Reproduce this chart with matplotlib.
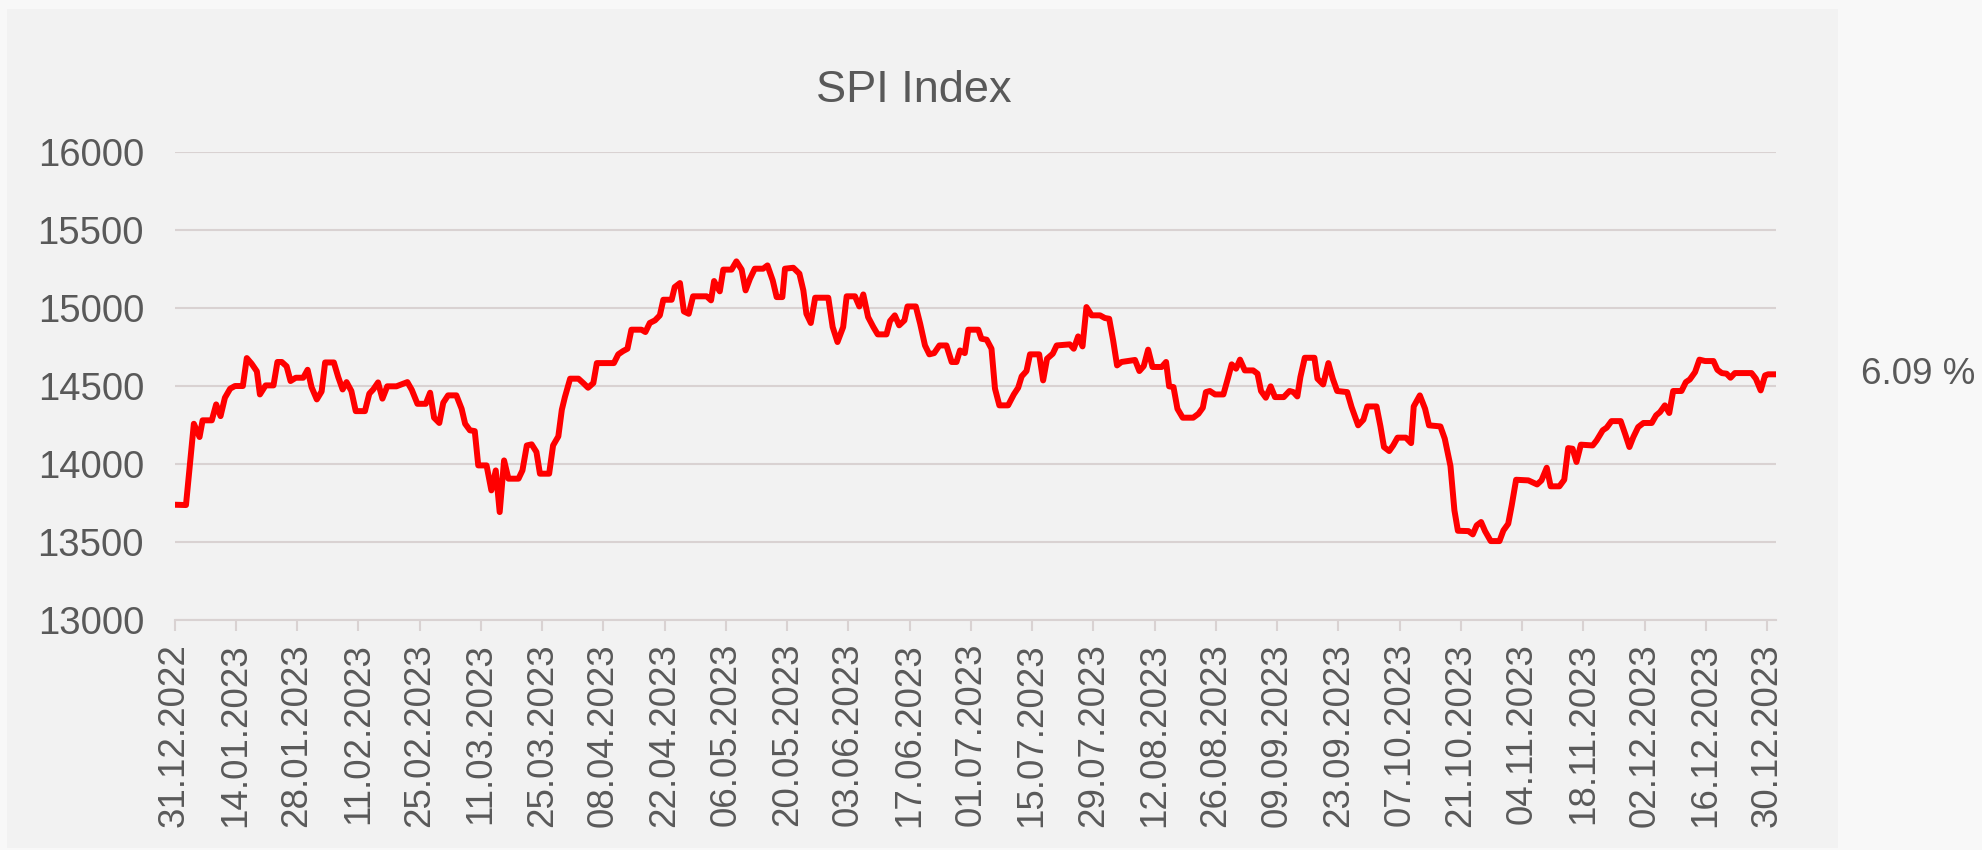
import numpy as np
import pandas as pd
import matplotlib
matplotlib.use("Agg")
import matplotlib.pyplot as plt
import matplotlib.dates as mdates
from matplotlib.patches import Rectangle

plt.rcParams['font.family'] = ['Liberation Sans', 'DejaVu Sans']

START = "2022-12-31"

# position in days after 31.12.2022
day_pos = [
    0.0, 2.6, 4.4, 5.7, 6.4, 8.5, 9.5, 10.5, 11.5, 12.7, 13.8, 15.6, 16.5, 17.6, 18.8, 19.5,
    20.8, 22.6, 23.5, 24.5, 25.6, 26.5, 27.7, 29.4, 30.4, 31.3, 32.5, 33.6, 34.4, 36.4, 37.4,
    38.4, 39.3, 40.4, 41.4, 43.5, 44.5, 45.4, 46.5, 47.5, 48.6, 50.7, 53.2, 54.2, 55.5, 57.4,
    58.4, 59.3, 60.5, 61.4, 62.5, 64.4, 65.6, 66.4, 67.5, 68.6, 69.4, 71.3, 72.4, 73.4, 74.3,
    75.3, 76.3, 78.6, 79.5, 80.5, 81.6, 82.7, 83.5, 85.6, 86.5, 87.7, 88.5, 89.2, 90.4, 92.3,
    93.4, 94.5, 95.7, 96.5, 100.4, 101.4, 102.5, 103.5, 104.4, 106.7, 107.6, 108.6, 109.8,
    110.9, 111.7, 113.6, 114.3, 115.5, 116.4, 117.5, 118.5, 121.6, 122.6, 123.3, 123.9, 124.6,
    125.4, 127.3, 128.4, 129.6, 130.5, 131.5, 132.6, 134.5, 135.5, 136.7, 137.6, 138.9, 139.5,
    141.4, 142.8, 143.7, 144.4, 145.4, 146.4, 149.4, 150.4, 151.5, 152.8, 153.6, 155.5, 156.5,
    157.4, 158.5, 159.7, 160.7, 162.7, 163.5, 164.6, 165.6, 166.8, 167.5, 169.4, 170.4, 171.5,
    172.5, 173.6, 174.8, 176.4, 177.6, 178.7, 179.5, 180.6, 181.4, 183.7, 184.4, 185.6, 186.7,
    187.5, 188.5, 190.5, 191.8, 192.8, 193.6, 194.7, 195.5, 197.6, 198.5, 199.4, 200.7, 201.6,
    204.6, 205.5, 206.5, 207.5, 208.4, 209.6, 211.5, 212.6, 213.6, 214.5, 215.4, 216.4, 219.5,
    220.5, 221.5, 222.5, 223.5, 225.6, 226.6, 227.3, 228.3, 229.2, 230.4, 232.8, 234.0, 235.0,
    235.7, 236.6, 237.8, 239.7, 240.6, 241.6, 242.6, 243.5, 244.6, 246.5, 247.5, 248.3, 249.4,
    250.5, 251.5, 253.5, 254.8, 255.7, 256.6, 257.3, 258.3, 260.5, 261.2, 262.5, 263.7, 264.7,
    265.7, 268.0, 269.0, 270.5, 271.7, 272.6, 274.7, 275.6, 276.4, 277.6, 278.5, 279.5, 281.4,
    282.6, 283.2, 284.6, 285.8, 286.7, 289.3, 290.3, 291.6, 292.5, 293.3, 295.7, 296.7, 297.6,
    298.6, 299.5, 300.8, 302.8, 303.7, 304.8, 305.6, 306.6, 309.4, 311.4, 312.4, 313.6, 314.5,
    316.5, 317.6, 318.5, 319.5, 320.4, 321.4, 324.1, 325.0, 326.4, 327.3, 328.4, 330.5, 331.5,
    332.5, 333.4, 334.5, 335.7, 337.6, 338.6, 339.5, 340.6, 341.6, 342.5, 344.4, 345.4, 346.3,
    347.5, 348.5, 349.8, 351.7, 352.6, 353.6, 354.7, 355.6, 356.6, 360.4, 361.4, 362.5, 363.5,
    364.2, 366.0,
]

spi = [
    13737, 13735, 14256, 14171, 14278, 14278, 14380, 14305, 14423, 14481, 14498, 14498, 14677,
    14641, 14592, 14444, 14502, 14502, 14652, 14652, 14624, 14530, 14551, 14551, 14602, 14491,
    14412, 14463, 14649, 14649, 14555, 14476, 14523, 14466, 14337, 14337, 14449, 14476, 14521,
    14417, 14496, 14496, 14523, 14474, 14384, 14384, 14455, 14295, 14261, 14391, 14438, 14438,
    14352, 14256, 14214, 14209, 13989, 13989, 13829, 13957, 13690,
    14021, 13904, 13904, 13957, 14117, 14124, 14075, 13936, 13936, 14117, 14175, 14346, 14427,
    14545, 14545, 14517, 14487, 14517, 14645, 14645, 14701, 14722, 14737, 14859, 14859, 14844,
    14902, 14919, 14951, 15051, 15051, 15132, 15158, 14976, 14961, 15073, 15073, 15047, 15171,
    15137, 15105, 15244, 15244, 15297, 15244, 15111, 15186, 15250, 15250, 15271, 15175, 15068,
    15068, 15250, 15256, 15218, 15111, 14961, 14902,
    15064, 15064, 14876, 14780, 14876, 15073, 15073, 15008, 15085, 14940, 14876, 14829, 14829,
    14914, 14951, 14887, 14919, 15008, 15008, 14897, 14758, 14701, 14709, 14758, 14758, 14652,
    14652, 14726, 14709, 14859, 14859, 14801, 14795, 14737, 14481, 14374, 14374, 14444, 14487,
    14560, 14594, 14701, 14701, 14534, 14673, 14705, 14758, 14765, 14737, 14816, 14752, 15004,
    14951, 14951, 14934, 14929, 14791, 14630, 14652, 14665,
    14594, 14626, 14731, 14620, 14620, 14652, 14496, 14491, 14352, 14295, 14295, 14320, 14359,
    14459, 14466, 14444, 14444, 14534, 14637, 14609, 14667, 14598, 14598, 14577, 14466, 14423,
    14496, 14427, 14427, 14466, 14459, 14431, 14555, 14679, 14679, 14545, 14508, 14645, 14545,
    14466, 14459, 14363, 14246, 14282, 14367, 14367, 14239, 14107, 14081, 14117, 14167, 14167,
    14132, 14367, 14438, 14352, 14246, 14239, 14160, 13985, 13701, 13570, 13568, 13547, 13605,
    13626, 13568, 13504, 13504, 13572, 13615, 13733, 13897, 13893, 13867, 13893, 13974, 13855,
    13855, 13897, 14100, 14096, 14011, 14122, 14117, 14149, 14214, 14231, 14273, 14273, 14192,
    14107, 14171, 14235, 14261, 14261, 14310, 14331, 14374, 14325, 14466, 14466, 14523, 14540,
    14587, 14667, 14658, 14658, 14602, 14581, 14577, 14551, 14581, 14581, 14545, 14470, 14566,
    14573, 14573,
]

y_ticks = [13000, 13500, 14000, 14500, 15000, 15500, 16000]

TEXT = '#595959'
GRID = '#d9d2d2'

fig = plt.figure(figsize=(19.82, 8.5), dpi=100, facecolor='#f8f8f8')
fig.patches.append(Rectangle((7 / 1982, 2 / 850), (1838 - 7) / 1982, (841 - 2) / 850,
                             transform=fig.transFigure, facecolor='#f2f2f2',
                             edgecolor='none', zorder=-10))

ax = fig.add_axes([174.6 / 1982, 1 - 619.7 / 850, (1776 - 174.6) / 1982, (619.7 - 151.7) / 850])
ax.set_facecolor('none')
ax.set_zorder(5)

x0 = mdates.date2num(pd.Timestamp(START))
x = x0 + np.array(day_pos)
ax.plot(x, spi, color='#ff0000', lw=4.3, solid_joinstyle='round', zorder=3)

ax.set_ylim(13000, 16000)
ax.set_xlim(x0, x0 + 366)
ax.set_yticks(y_ticks)
ax.grid(axis='y', color=GRID, lw=1.5)
ax.set_axisbelow(True)

tick_dates = pd.date_range(START, "2023-12-30", freq='14D')
ax.set_xticks(mdates.date2num(tick_dates))
ax.xaxis.set_major_formatter(mdates.DateFormatter('%d.%m.%Y'))

for s in ['top', 'right', 'left']:
    ax.spines[s].set_visible(False)
ax.spines['bottom'].set_color(GRID)
ax.spines['bottom'].set_linewidth(1.5)

ax.tick_params(axis='y', length=0, pad=22, labelsize=27.5, labelcolor=TEXT)
ax.tick_params(axis='x', length=7.7, width=1.5, color=GRID, pad=9,
               labelsize=26.5, labelcolor=TEXT, labelrotation=90)

fig.text(914 / 1982, 1 - 91 / 850, 'SPI Index', ha='center', va='center',
         fontsize=32.5, color=TEXT)

perf = (spi[-1] / spi[0] - 1) * 100
ax.annotate(f'{perf:.2f} %', xy=(1861 / 1982, spi[-1]),
            xycoords=('figure fraction', 'data'), ha='left', va='center',
            fontsize=26.5, color=TEXT, annotation_clip=False)

fig.savefig('out.png', dpi=100, facecolor=fig.get_facecolor())
